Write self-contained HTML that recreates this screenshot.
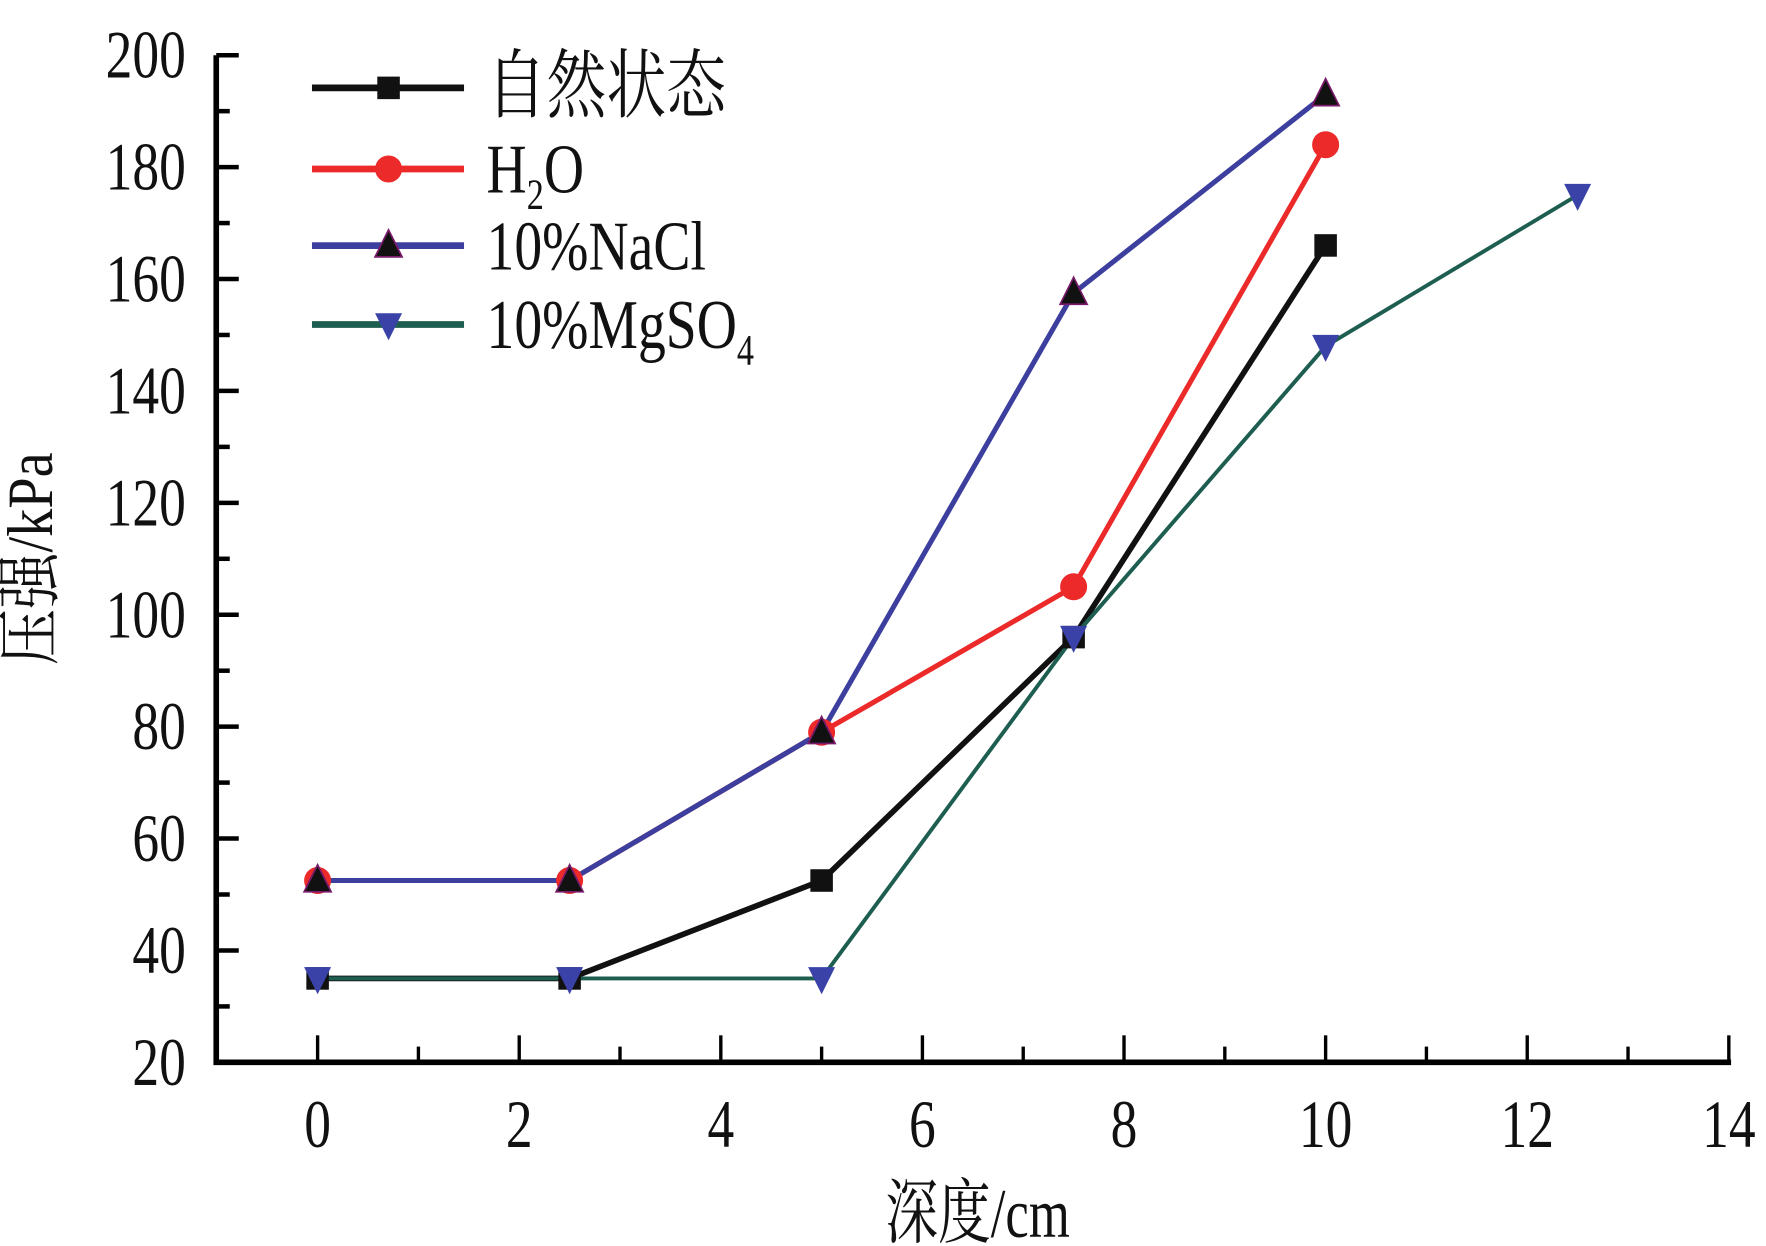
<!DOCTYPE html>
<html><head><meta charset="utf-8"><style>
html,body{margin:0;padding:0;background:#fff;}
svg{display:block;}
text{font-family:"Liberation Serif","Noto Serif CJK SC",serif;fill:#111;}
</style></head><body>
<svg id="chart" width="1766" height="1246" viewBox="0 0 1568 1106" preserveAspectRatio="none" xmlns="http://www.w3.org/2000/svg">
<g id="axes"></g>
<g id="series"></g>
<g id="legend"></g>
<text transform="translate(46,496) rotate(-90) scale(1,1.15)" text-anchor="middle" font-size="50">压强/kPa</text>
<text transform="translate(868,1098) scale(0.9,1.2)" text-anchor="middle" font-size="52">深度/cm</text>
</svg>
<script>
const xTicks=[0,2,4,6,8,10,12,14];
const yTicks=[20,40,60,80,100,120,140,160,180,200];
const depths=[0,2.5,5,7.5,10,12.5];
const natural=[35,35,52.5,96,166];
const water=[52.5,52.5,79,105,184];
const nacl=[52.5,52.5,79,157.5,193];
const mgso4=[35,35,35,96,148,175];
const seriesNames=["自然状态","H2O","10%NaCl","10%MgSO4"];

const NS="http://www.w3.org/2000/svg";
const X=v=>282+(v-0)*(1535-282)/14;
const Y=v=>943-(v-20)*(943-49)/180;
function mk(tag,attrs,parent){const e=document.createElementNS(NS,tag);for(const k in attrs)e.setAttribute(k,attrs[k]);parent.appendChild(e);return e;}
const axes=document.getElementById('axes');
let a=mk('path',{d:`M192 ${Y(200)} V943 H1537`,fill:'none',stroke:'#000','stroke-width':5},axes);


for(let v=0;v<=14;v++){
  const major=v%2===0;
  const t=mk('line',{x1:X(v),x2:X(v),y1:943,y2:943-(major?24:14),stroke:'#000','stroke-width':3},axes);
  
  
}
for(let v=30;v<=200;v+=10){
  const major=v%20===0;
  const t=mk('line',{x1:192,x2:192+(major?20:12),y1:Y(v),y2:Y(v),stroke:'#000','stroke-width':4},axes);
  
  
}
xTicks.forEach(v=>{const t=mk('text',{transform:`translate(${X(v)},1018) scale(0.95,1.2)`,'text-anchor':'middle','font-size':50},axes);t.textContent=v;
  
  });
yTicks.forEach(v=>{const t=mk('text',{transform:`translate(165,${Y(v)+20}) scale(0.95,1.2)`,'text-anchor':'end','font-size':50},axes);t.textContent=v;
  
  });

function marker(type,x,y,color,parent){
  let m;
  if(type==='sq')m=mk('rect',{x:x-10,y:y-10,width:20,height:20,fill:color},parent);
  else if(type==='ci')m=mk('circle',{cx:x,cy:y,r:12,fill:color},parent);
  else if(type==='up')m=mk('path',{d:`M${x} ${y-14} L${x+12} ${y+10} L${x-12} ${y+10}Z`,fill:color,stroke:'#7a1a6a','stroke-width':1.5},parent);
  else m=mk('path',{d:`M${x-12} ${y-10} L${x+12} ${y-10} L${x} ${y+14}Z`,fill:color},parent);
  return m;
}
const defs=[
 {vals:natural,color:'#111',mk:'sq',mc:'#111',w:5},
 {vals:water,color:'#ec2a2a',mk:'ci',mc:'#ec2a2a',w:4.5},
 {vals:nacl,color:'#3d3f9e',mk:'up',mc:'#111',w:4.5},
 {vals:mgso4,color:'#1e5e50',mk:'dn',mc:'#3a42a8',w:3.5}
];
const sg=document.getElementById('series');
const ids=['natural','water','nacl','mgso4'];
defs.forEach((d,i)=>{
  const pts=d.vals.map((v,j)=>`${X(depths[j])},${Y(v)}`).join(' ');
  const l=mk('polyline',{points:pts,fill:'none',stroke:d.color,'stroke-width':d.w},sg);
  
  
});
defs.forEach((d,i)=>{
  d.vals.forEach((v,j)=>{const m=marker(d.mk,X(depths[j]),Y(v),d.mc,sg);
    
    });
});
const lg=document.getElementById('legend');
const rowsY=[78,150,218,288];
defs.forEach((d,i)=>{
  const y=rowsY[i];
  const l=mk('line',{x1:277,x2:412,y1:y,y2:y,stroke:d.color,'stroke-width':6},lg);
  
  
  const m=marker(d.mk,345,y,d.mc,lg);
  
  
  const t=mk('text',{transform:`translate(432,${y+21}) scale(0.95,1.2)`,'font-size':i===0?56:52},lg);
  if(i===1){t.innerHTML='H<tspan font-size="32" dy="12">2</tspan><tspan dy="-12">O</tspan>';}
  else if(i===3){t.innerHTML='10%MgSO<tspan font-size="32" dy="12">4</tspan>';}
  else t.textContent=seriesNames[i];
  
  
});
</script>
</body></html>
